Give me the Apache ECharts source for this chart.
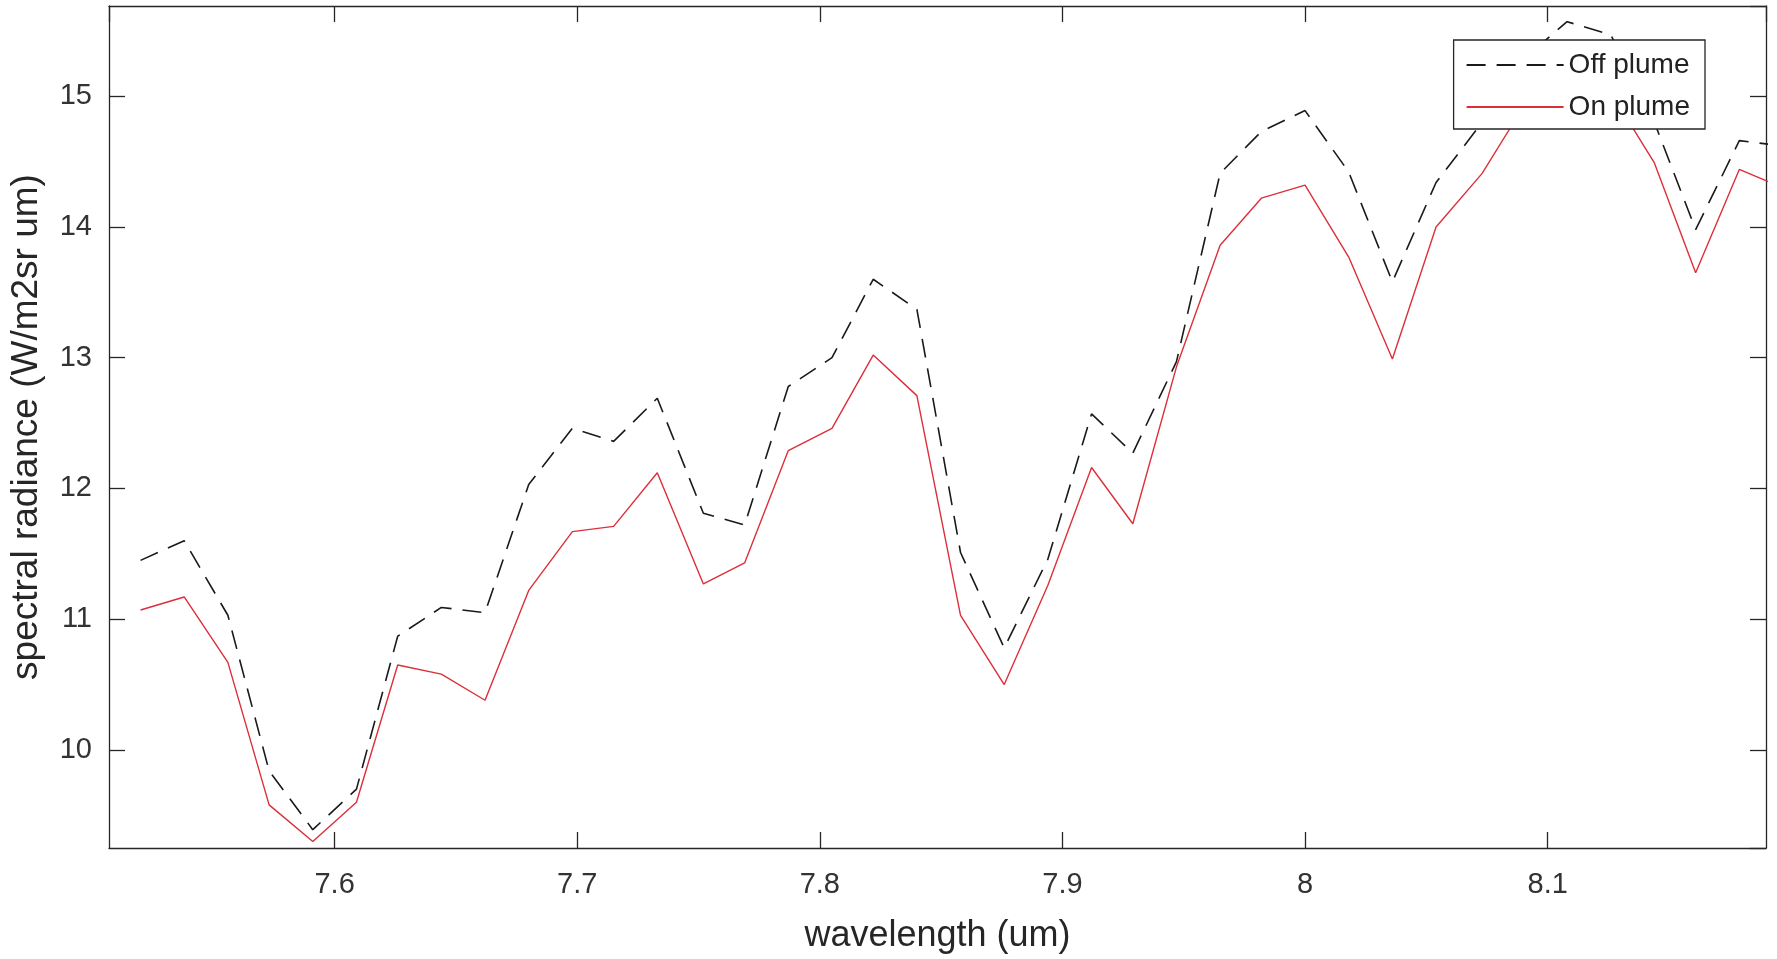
<!DOCTYPE html>
<html>
<head>
<meta charset="utf-8">
<title>spectral radiance</title>
<script src="https://cdn.jsdelivr.net/npm/echarts@6/dist/echarts.min.js"></script>
<style>
	html, body { margin: 0; padding: 0; background: #fff; }
	#main { width: 1777px; height: 959px; }
</style>
</head>
<body>
<div id="main"></div>
<script>
/** data **/
var wavelength = [
	7.520, 7.538, 7.556, 7.573, 7.591, 7.609, 7.626, 7.644, 7.662, 7.680,
	7.698, 7.715, 7.733, 7.752, 7.769, 7.787, 7.805, 7.822, 7.840, 7.858,
	7.876, 7.894, 7.912, 7.929, 7.947, 7.965, 7.982, 8.000, 8.018, 8.036,
	8.054, 8.073, 8.091, 8.108, 8.126, 8.144, 8.161, 8.179, 8.197
];
var offPlume = [
	11.45, 11.60, 11.03, 9.84, 9.39, 9.70, 10.87, 11.09, 11.05, 12.03,
	12.46, 12.36, 12.69, 11.81, 11.72, 12.78, 13.00, 13.60, 13.37, 11.51,
	10.78, 11.46, 12.57, 12.27, 12.97, 14.41, 14.73, 14.89, 14.42, 13.58,
	14.34, 14.80, 15.30, 15.57, 15.47, 14.80, 13.98, 14.66, 14.62
];
var onPlume = [
	11.07, 11.17, 10.67, 9.58, 9.30, 9.60, 10.65, 10.58, 10.38, 11.22,
	11.67, 11.71, 12.12, 11.27, 11.43, 12.29, 12.46, 13.02, 12.71, 11.03,
	10.50, 11.26, 12.16, 11.73, 12.93, 13.86, 14.22, 14.32, 13.77, 12.99,
	14.00, 14.41, 14.95, 15.15, 15.03, 14.49, 13.65, 14.44, 14.30
];
var seriesNames = ['Off plume', 'On plume'];

var xMin = 7.507, xMax = 8.19;
var yMin = 9.25, yMax = 15.69;

function pairs(xs, ys) {
	var out = [];
	for (var i = 0; i < xs.length; i++) {
		out.push([xs[i], ys[i]]);
	}
	return out;
}

var font = 'Liberation Sans, Arial, sans-serif';
var axisColor = '#262626';

// matlab style box: every side gets a line and inward ticks
function makeX(pos, labels) {
	return {
		type: 'value',
		position: pos,
		min: xMin,
		max: xMax,
		name: labels ? 'wavelength (um)' : '',
		nameLocation: 'middle',
		nameGap: 70,
		nameTextStyle: { color: axisColor, fontSize: 36, fontFamily: font },
		axisLine: { show: true, onZero: false, lineStyle: { color: axisColor, width: 1.3 } },
		axisTick: { show: true, inside: true, length: 16, lineStyle: { color: axisColor, width: 1.3 } },
		axisLabel: {
			show: labels,
			margin: 22,
			color: '#333',
			fontSize: 29,
			fontFamily: font,
			showMinLabel: false,
			showMaxLabel: false,
			formatter: function (v) { return Math.round(v * 10) / 10; }
		},
		splitLine: { show: false }
	};
}
function makeY(pos, labels) {
	return {
		type: 'value',
		position: pos,
		min: yMin,
		max: yMax,
		name: labels ? 'spectral radiance (W/m2sr um)' : '',
		nameLocation: 'middle',
		nameGap: 64,
		nameTextStyle: { color: axisColor, fontSize: 37, fontFamily: font },
		axisLine: { show: true, onZero: false, lineStyle: { color: axisColor, width: 1.3 } },
		axisTick: { show: true, inside: true, length: 16, lineStyle: { color: axisColor, width: 1.3 } },
		axisLabel: {
			show: labels,
			margin: 17,
			color: '#333',
			fontSize: 29,
			fontFamily: font,
			showMinLabel: false,
			showMaxLabel: false,
			formatter: function (v) { return Math.abs(v - Math.round(v)) < 1e-6 ? String(Math.round(v)) : ''; }
		},
		splitLine: { show: false }
	};
}

var myChart = echarts.init(document.getElementById('main'), null, { renderer: 'canvas' });
myChart.setOption({
	backgroundColor: '#fff',
	animation: false,
	grid: { left: 107, right: 11, top: 6, bottom: 110 },
	legend: {
		data: seriesNames,
		orient: 'vertical',
		right: 72,
		top: 40,
		padding: [11, 15, 8, 12],
		itemWidth: 97,
		itemHeight: 14,
		itemGap: 14,
		backgroundColor: '#fff',
		borderColor: axisColor,
		borderWidth: 1.3,
		borderRadius: 0,
		itemStyle: { opacity: 0 }, // only the line, no marker
		textStyle: { color: '#222', fontSize: 28, fontFamily: font }
	},
	xAxis: [makeX('bottom', true), makeX('top', false)],
	yAxis: [makeY('left', true), makeY('right', false)],
	series: [
		{
			name: seriesNames[0],
			type: 'line',
			symbol: 'none',
			clip: true,
			color: '#1a1a1a',
			lineStyle: { color: '#1a1a1a', width: 1.6, type: [19, 11] },
			data: pairs(wavelength, offPlume)
		},
		{
			name: seriesNames[1],
			type: 'line',
			symbol: 'none',
			clip: true,
			color: '#dc2f3a',
			lineStyle: { color: '#dc2f3a', width: 1.4 },
			data: pairs(wavelength, onPlume)
		}
	]
});
</script>
</body>
</html>
